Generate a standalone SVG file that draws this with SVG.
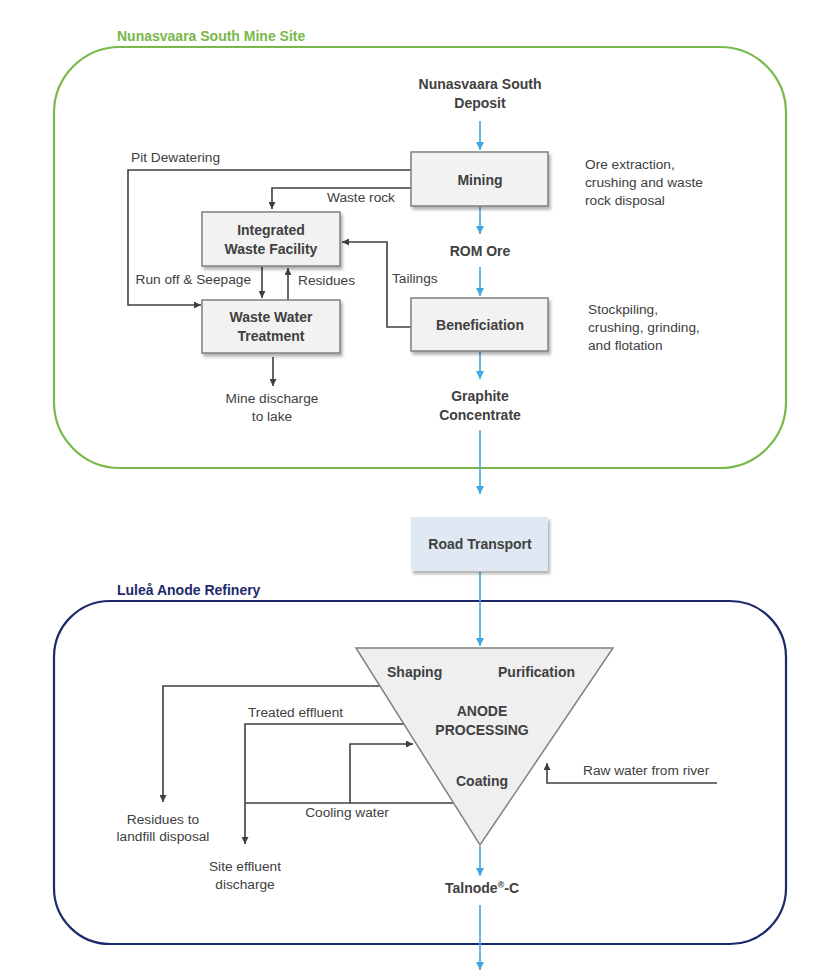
<svg xmlns="http://www.w3.org/2000/svg" width="818" height="978" viewBox="0 0 818 978">
<style>
text{font-family:"Liberation Sans",Arial,sans-serif;fill:#404040}
.b{font-weight:bold;font-size:14px}
.r{font-size:13.7px}
.m{text-anchor:middle}
.box{fill:#f2f2f2;stroke:#7f7f7f;stroke-width:1.5}
.dk{fill:none;stroke:#404040;stroke-width:1.6}
.bl{fill:none;stroke:#3ea8e2;stroke-width:1.6}
</style>
<defs>
<filter id="sh" x="-10%" y="-10%" width="130%" height="140%">
<feDropShadow dx="2" dy="3" stdDeviation="1.5" flood-color="#000" flood-opacity="0.3"/>
</filter>
<marker id="ad" viewBox="0 0 10 10" refX="10" refY="5" markerWidth="7" markerHeight="7" markerUnits="userSpaceOnUse" orient="auto">
<path d="M0,0 L10,5 L0,10 z" fill="#404040"/>
</marker>
<marker id="ab" viewBox="0 0 10 10" refX="10" refY="5" markerWidth="8" markerHeight="8" markerUnits="userSpaceOnUse" orient="auto">
<path d="M0,0 L10,5 L0,10 z" fill="#3ea8e2"/>
</marker>
</defs>
<rect width="818" height="978" fill="#fff"/>

<g id="mine-site">
<rect x="54" y="47" width="732" height="421" rx="66" ry="66" fill="none" stroke="#77b94a" stroke-width="2.2"/>
<text x="117" y="41" class="b" style="fill:#77b94a">Nunasvaara South Mine Site</text>
</g>
<g id="refinery">
<rect x="54" y="601" width="732" height="343" rx="56" ry="56" fill="none" stroke="#1c2a6b" stroke-width="2.2"/>
<text x="117" y="595" class="b" style="fill:#1c2a6b">Luleå Anode Refinery</text>
</g>

<g id="connectors">
<path class="bl" d="M480,121 V150" marker-end="url(#ab)"/>
<path class="bl" d="M480,207 V234" marker-end="url(#ab)"/>
<path class="bl" d="M480,267 V296" marker-end="url(#ab)"/>
<path class="bl" d="M480,352 V379" marker-end="url(#ab)"/>
<path class="bl" d="M480,430 V494" marker-end="url(#ab)"/>
<path class="bl" d="M480,572 V646" marker-end="url(#ab)"/>
<path class="bl" d="M480,846 V876" marker-end="url(#ab)"/>
<path class="bl" d="M480,905 V970" marker-end="url(#ab)"/>
<path class="dk" d="M411,170 H128 V305 H201" marker-end="url(#ad)"/>
<path class="dk" d="M411,188 H272 V209" marker-end="url(#ad)"/>
<path class="dk" d="M411,327 H387 V242 H342" marker-end="url(#ad)"/>
<path class="dk" d="M262,267 V298" marker-end="url(#ad)"/>
<path class="dk" d="M288,300 V268" marker-end="url(#ad)"/>
<path class="dk" d="M273,357 V386" marker-end="url(#ad)"/>
<path class="dk" d="M380,686 H163 V802" marker-end="url(#ad)"/>
<path class="dk" d="M404,724 H245 V844" marker-end="url(#ad)"/>
<path class="dk" d="M245,803 H453"/>
<path class="dk" d="M350,803 V744 H413" marker-end="url(#ad)"/>
<path class="dk" d="M717,783 H547 V763" marker-end="url(#ad)"/>
</g>

<g id="deposit">
<text x="480" y="89" class="b m">Nunasvaara South</text>
<text x="480" y="108" class="b m">Deposit</text>
</g>
<g id="mining">
<rect x="411" y="152" width="137" height="54" class="box" filter="url(#sh)"/>
<text x="480" y="185" class="b m">Mining</text>
</g>
<g id="rom-ore"><text x="480" y="256" class="b m">ROM Ore</text></g>
<g id="beneficiation">
<rect x="411" y="298" width="137" height="53" class="box" filter="url(#sh)"/>
<text x="480" y="330" class="b m">Beneficiation</text>
</g>
<g id="graphite">
<text x="480" y="401" class="b m">Graphite</text>
<text x="480" y="420" class="b m">Concentrate</text>
</g>
<g id="iwf">
<rect x="202" y="212" width="138" height="54" class="box" filter="url(#sh)"/>
<text x="271" y="235" class="b m">Integrated</text>
<text x="271" y="254" class="b m">Waste Facility</text>
</g>
<g id="wwt">
<rect x="202" y="300" width="138" height="53" class="box" filter="url(#sh)"/>
<text x="271" y="322" class="b m">Waste Water</text>
<text x="271" y="341" class="b m">Treatment</text>
</g>
<g id="road-transport">
<rect x="411" y="517" width="137" height="54" fill="#dfe8f3" filter="url(#sh)"/>
<text x="480" y="549" class="b m">Road Transport</text>
</g>
<g id="anode">
<polygon points="356,648 613,648 480,845" fill="#efefef" stroke="#808080" stroke-width="1.5"/>
<text x="387" y="677" class="b">Shaping</text>
<text x="498" y="677" class="b">Purification</text>
<text x="482" y="716" class="b m">ANODE</text>
<text x="482" y="735" class="b m">PROCESSING</text>
<text x="456" y="786" class="b">Coating</text>
</g>
<g id="talnode"><text x="482" y="893" class="b m">Talnode<tspan font-size="9" dy="-5">®</tspan><tspan dy="5">-C</tspan></text></g>

<g id="labels">
<text x="585" y="169" class="r">Ore extraction,</text>
<text x="585" y="187" class="r">crushing and waste</text>
<text x="585" y="205" class="r">rock disposal</text>
<text x="588" y="314" class="r">Stockpiling,</text>
<text x="588" y="332" class="r">crushing, grinding,</text>
<text x="588" y="350" class="r">and flotation</text>
<text x="131" y="162" class="r">Pit Dewatering</text>
<text x="327" y="202" class="r">Waste rock</text>
<text x="392" y="283" class="r">Tailings</text>
<text x="251" y="284" class="r" text-anchor="end">Run off &amp; Seepage</text>
<text x="298" y="285" class="r">Residues</text>
<text x="272" y="403" class="r m">Mine discharge</text>
<text x="272" y="421" class="r m">to lake</text>
<text x="248" y="717" class="r">Treated effluent</text>
<text x="163" y="824" class="r m">Residues to</text>
<text x="163" y="841" class="r m">landfill disposal</text>
<text x="347" y="817" class="r m">Cooling water</text>
<text x="245" y="871" class="r m">Site effluent</text>
<text x="245" y="889" class="r m">discharge</text>
<text x="583" y="775" class="r">Raw water from river</text>
</g>
</svg>
